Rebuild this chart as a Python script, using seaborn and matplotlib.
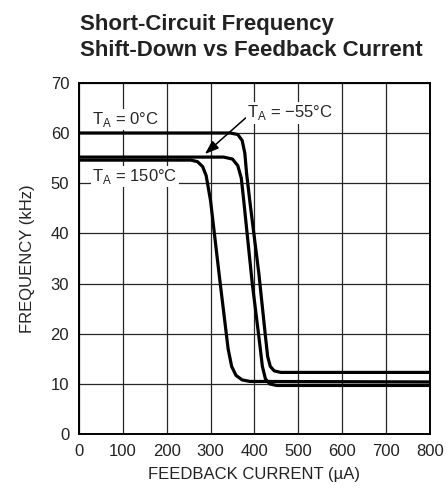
import matplotlib
matplotlib.use("Agg")
import matplotlib.pyplot as plt
import pandas as pd
import seaborn as sns

# values (current in uA, frequency in kHz)
cur_0c = [0, 345, 362, 372, 378, 382, 390, 410, 425, 430, 436, 445, 460, 800]
freq_0c = [60.0, 60.0, 59.7, 58.5, 56.0, 52.0, 46.0, 32.0, 19.5, 15.5, 13.5, 12.6, 12.3, 12.3]

cur_m55c = [0, 330, 350, 362, 370, 375, 395, 412, 418, 425, 435, 450, 800]
freq_m55c = [55.2, 55.2, 54.8, 53.5, 51.0, 47.0, 30.0, 18.0, 13.5, 11.0, 10.0, 9.7, 9.7]

cur_150c = [0, 255, 270, 282, 290, 295, 300, 320, 340, 348, 358, 372, 390, 800]
freq_150c = [54.6, 54.6, 54.3, 53.3, 51.5, 49.0, 46.5, 31.5, 17.0, 13.5, 11.7, 10.8, 10.5, 10.4]

x_ticks = [0, 100, 200, 300, 400, 500, 600, 700, 800]
y_ticks = [0, 10, 20, 30, 40, 50, 60, 70]

frames = []
for name, xs, ys in [("0C", cur_0c, freq_0c), ("-55C", cur_m55c, freq_m55c),
                     ("150C", cur_150c, freq_150c)]:
    frames.append(pd.DataFrame({"current": xs, "freq": ys, "temp": name}))
df = pd.concat(frames, ignore_index=True)

sns.set_style("white")
plt.rcParams["font.family"] = ["Liberation Sans", "DejaVu Sans"]
plt.rcParams["mathtext.fontset"] = "custom"
plt.rcParams["mathtext.rm"] = "Liberation Sans"

fig = plt.figure(figsize=(4.48, 4.90), dpi=100)
ax = fig.add_axes([0.176, 0.114, 0.784, 0.717])

sns.lineplot(data=df, x="current", y="freq", units="temp", estimator=None,
             color="black", linewidth=2.3, sort=False, ax=ax)

ax.set_xlim(0, 800)
ax.set_ylim(0, 70)
ax.set_xticks(x_ticks)
ax.set_yticks(y_ticks)
ax.grid(True, color="0.15", linewidth=0.9)
ax.tick_params(axis="both", length=0, labelsize=12, pad=7, colors="#222222")
for s in ax.spines.values():
    s.set_color("black")
    s.set_linewidth(1.4)

ax.set_xlabel("FEEDBACK CURRENT (\u00b5A)", fontsize=12, labelpad=6, color="#222222")
ax.set_ylabel("FREQUENCY (kHz)", fontsize=12, labelpad=11, color="#222222")

box = dict(facecolor="white", edgecolor="none", pad=1)
ax.text(30, 62.7, "T$_\\mathrm{A}$ = 0\u00b0C", fontsize=12, va="center", bbox=box)
ax.text(30, 51.3, "T$_\\mathrm{A}$ = 150\u00b0C", fontsize=12, va="center", bbox=box)
ax.annotate("T$_\\mathrm{A}$ = \u221255\u00b0C", xy=(287, 55.8), xytext=(383, 64),
            fontsize=12, va="center", ha="left", bbox=box,
            arrowprops=dict(arrowstyle="-|>,head_length=0.7,head_width=0.25",
                            color="black", lw=1.1, shrinkA=0, shrinkB=0,
                            relpos=(0, 0.3)))

fig.text(0.178, 0.972, "Short-Circuit Frequency\nShift-Down vs Feedback Current",
         fontsize=16, fontweight="bold", ha="left", va="top", linespacing=1.3,
         color="#222222")

fig.savefig("out.png", dpi=100)
